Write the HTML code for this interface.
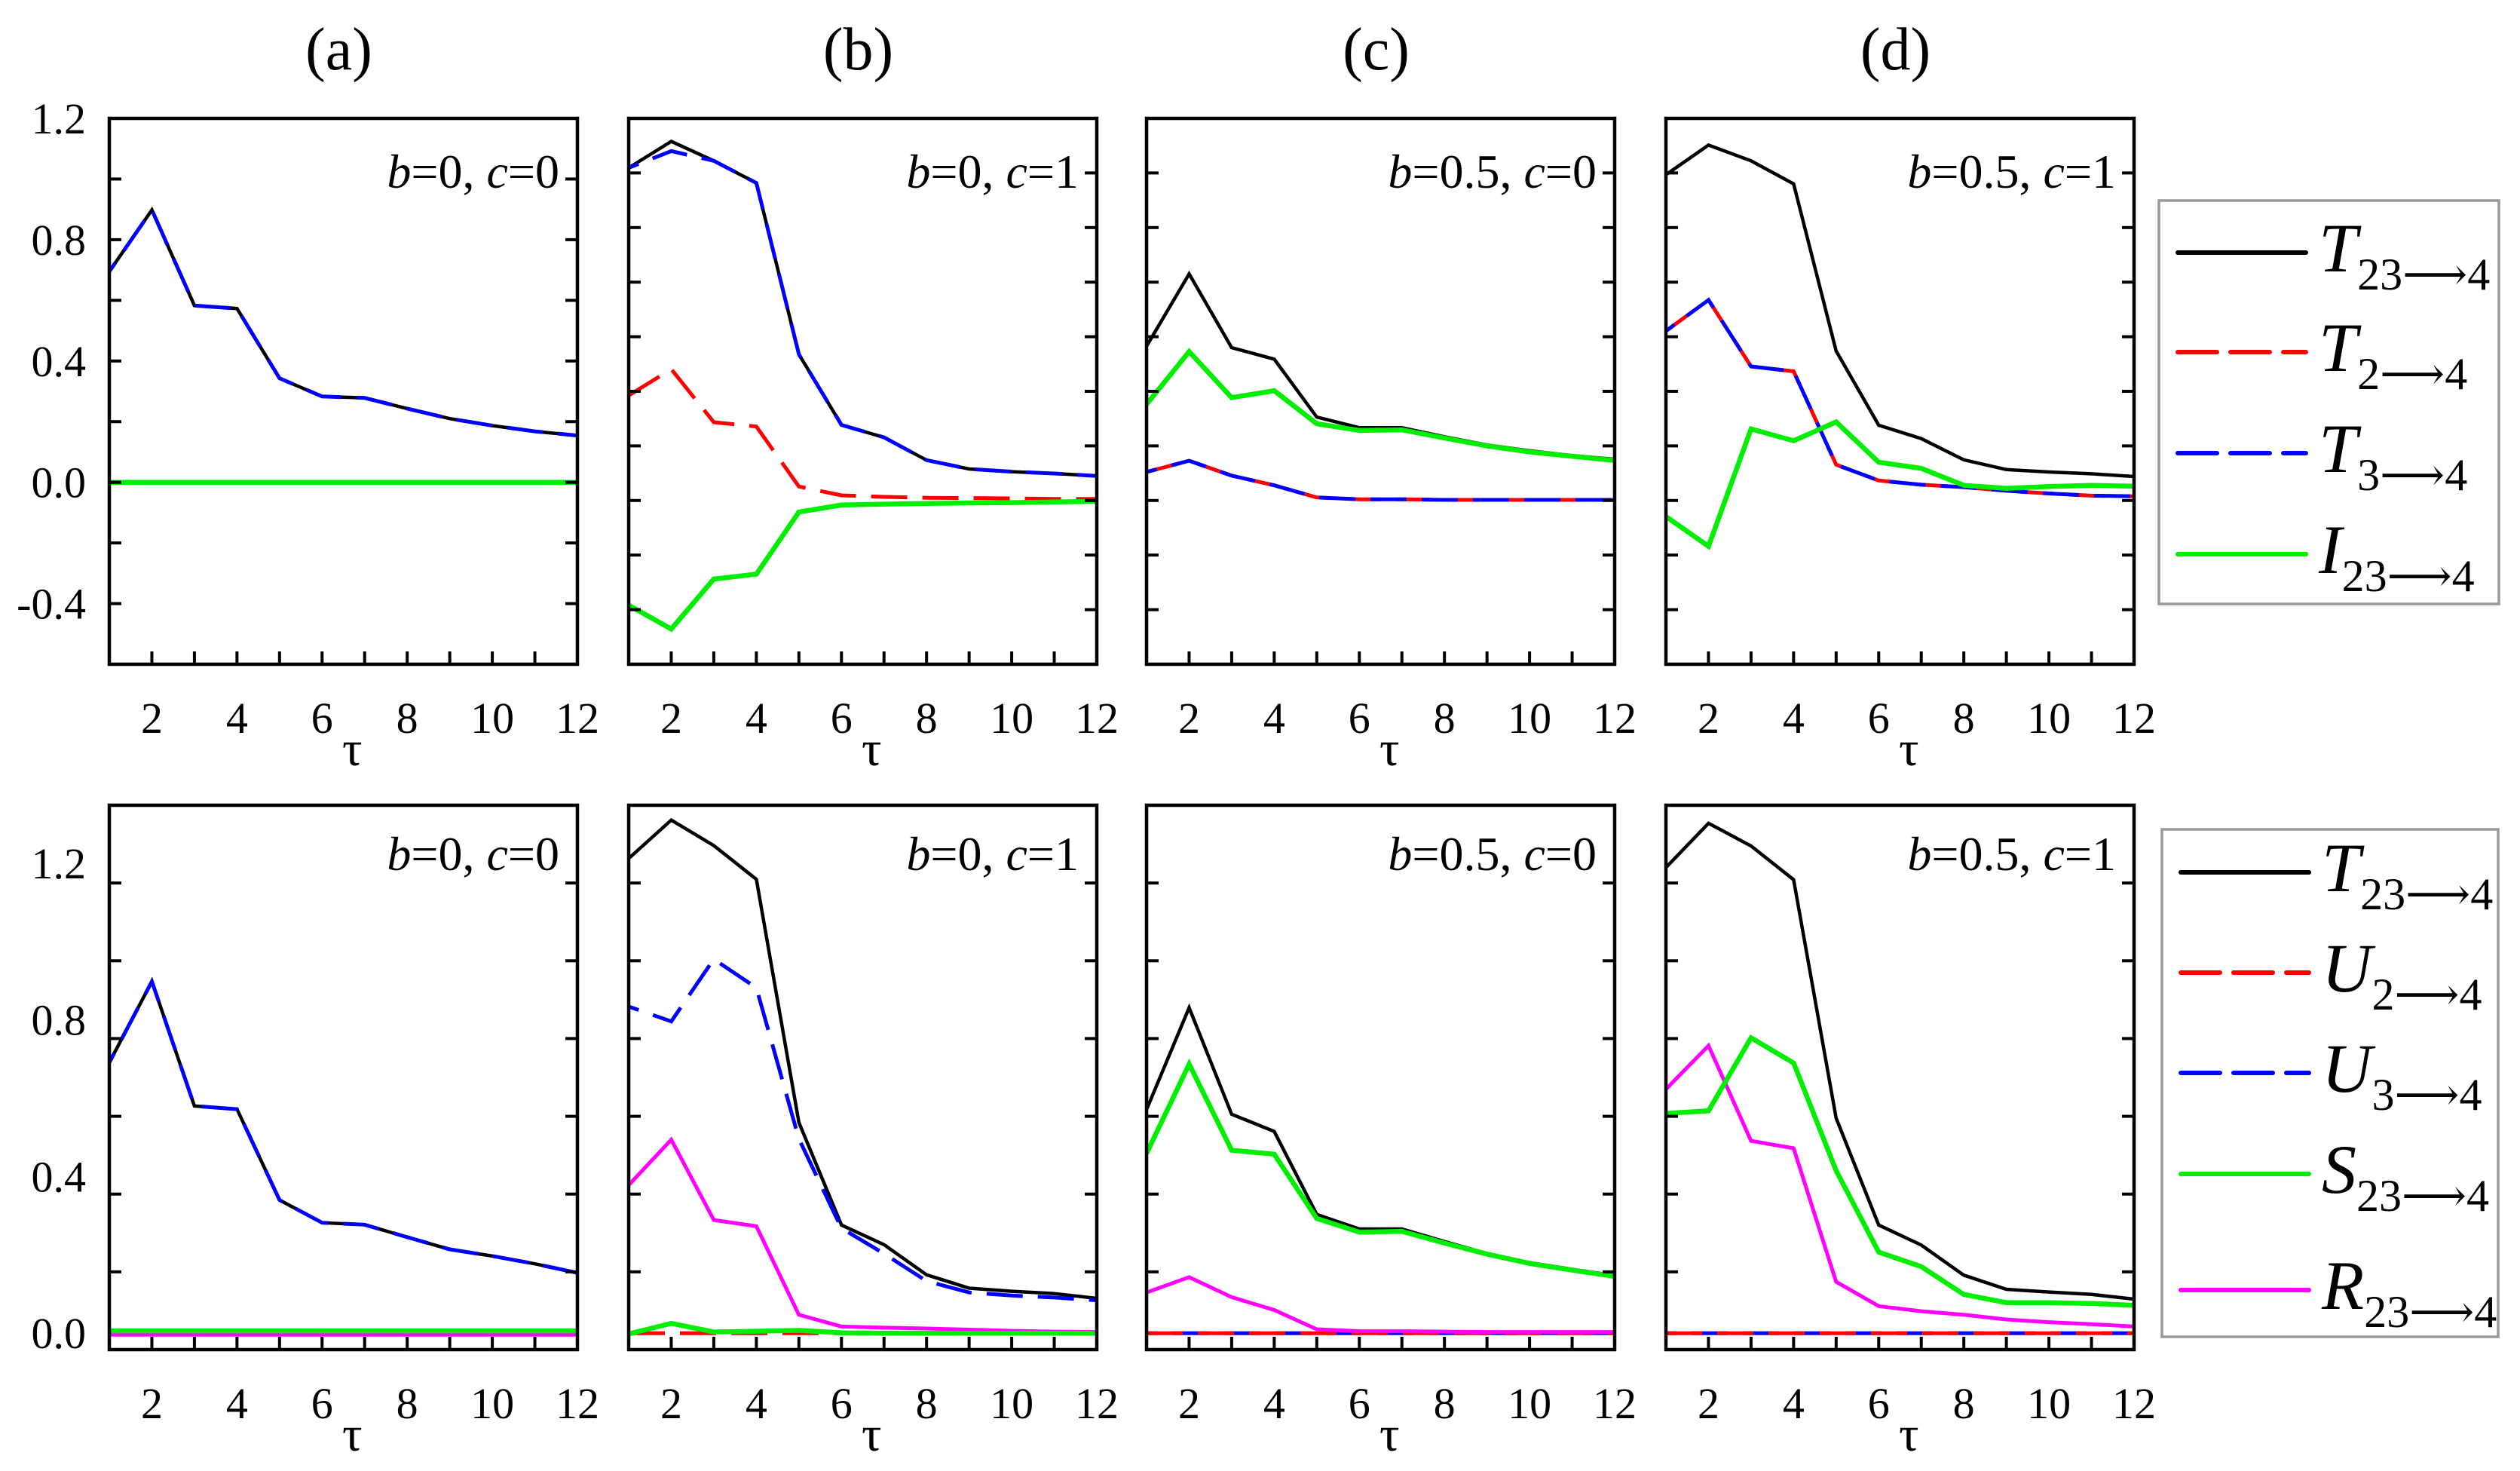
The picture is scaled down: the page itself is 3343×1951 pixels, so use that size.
<!DOCTYPE html>
<html><head><meta charset="utf-8"><style>
html,body{margin:0;padding:0;background:#fff;}
svg{display:block;font-family:"Liberation Serif",serif;}
</style></head><body>
<svg id="fig" width="3343" height="1951" viewBox="0 0 3343 1951" xmlns="http://www.w3.org/2000/svg"></svg>
<script>
// x categories (tau)
const tau = [1,2,3,4,5,6,7,8,9,10,11,12];
// ---- top row (a)-(d): T23->4, T2->4, T3->4, I23->4
const topA_T  = [0.695,0.898,0.583,0.573,0.343,0.283,0.278,0.243,0.210,0.187,0.168,0.154];
const topA_T2 = [0,0,0,0,0,0,0,0,0,0,0,0];
const topA_T3 = [0.695,0.898,0.583,0.573,0.343,0.283,0.278,0.243,0.210,0.187,0.168,0.154];
const topA_I  = [0,0,0,0,0,0,0,0,0,0,0,0];
const topB_T  = [1.037,1.124,1.060,0.987,0.422,0.189,0.148,0.073,0.044,0.035,0.029,0.021];
const topB_T2 = [0.286,0.373,0.198,0.184,-0.014,-0.043,-0.048,-0.051,-0.052,-0.053,-0.055,-0.055];
const topB_T3 = [1.037,1.092,1.060,0.987,0.422,0.189,0.148,0.073,0.044,0.035,0.029,0.021];
const topB_I  = [-0.405,-0.484,-0.319,-0.303,-0.098,-0.075,-0.072,-0.070,-0.068,-0.067,-0.065,-0.063];
const topC_T  = [0.449,0.687,0.444,0.406,0.215,0.180,0.180,0.150,0.123,0.104,0.088,0.076];
const topC_T2 = [0.034,0.071,0.022,-0.010,-0.050,-0.056,-0.056,-0.058,-0.058,-0.058,-0.058,-0.058];
const topC_T3 = [0.034,0.071,0.022,-0.010,-0.050,-0.056,-0.056,-0.058,-0.058,-0.058,-0.058,-0.058];
const topC_I  = [0.257,0.431,0.279,0.302,0.193,0.171,0.173,0.146,0.120,0.100,0.086,0.072];
const topD_T  = [1.014,1.112,1.060,0.984,0.433,0.188,0.144,0.074,0.042,0.034,0.028,0.019];
const topD_T2 = [0.499,0.601,0.382,0.366,0.058,0.006,-0.008,-0.016,-0.028,-0.037,-0.044,-0.046];
const topD_T3 = [0.499,0.601,0.382,0.366,0.058,0.006,-0.008,-0.016,-0.028,-0.037,-0.044,-0.046];
const topD_I  = [-0.113,-0.211,0.176,0.137,0.199,0.066,0.046,-0.010,-0.020,-0.014,-0.010,-0.013];
// ---- bottom row: T23->4, U2->4, U3->4, S23->4, R23->4
const botA_T  = [0.691,0.898,0.580,0.572,0.340,0.282,0.277,0.245,0.214,0.197,0.177,0.154];
const botA_U2 = [0,0,0,0,0,0,0,0,0,0,0,0];
const botA_U3 = [0.691,0.898,0.580,0.572,0.340,0.282,0.277,0.245,0.214,0.197,0.177,0.154];
const botA_S  = [0.006,0.006,0.006,0.006,0.006,0.006,0.006,0.006,0.006,0.006,0.006,0.006];
const botA_R  = [-0.004,-0.004,-0.004,-0.004,-0.004,-0.004,-0.004,-0.004,-0.004,-0.004,-0.004,-0.004];
const botB_T  = [1.212,1.310,1.245,1.159,0.538,0.276,0.226,0.149,0.115,0.107,0.101,0.089];
const botB_U2 = [0,0,0,0,0,0,0,0,0,0,0,0];
const botB_U3 = [0.834,0.796,0.955,0.882,0.496,0.268,0.203,0.133,0.104,0.096,0.091,0.084];
const botB_S  = [-0.002,0.025,0.003,0.005,0.007,0.001,0,0,0,0,0,0];
const botB_R  = [0.378,0.494,0.289,0.273,0.047,0.017,0.014,0.012,0.009,0.006,0.004,0.003];
const botC_T  = [0.571,0.831,0.559,0.515,0.303,0.266,0.266,0.234,0.203,0.180,0.163,0.147];
const botC_U2 = [0,0,0,0,0,0,0,0,0,0,0,0];
const botC_U3 = [0,0,0,0,0,0,0,0,0,0,0,0];
const botC_S  = [0.459,0.687,0.467,0.457,0.293,0.258,0.260,0.230,0.202,0.178,0.161,0.145];
const botC_R  = [0.104,0.143,0.092,0.059,0.010,0.005,0.005,0.004,0.003,0.003,0.003,0.003];
const botD_T  = [1.189,1.302,1.244,1.158,0.549,0.276,0.225,0.148,0.112,0.105,0.099,0.087];
const botD_U2 = [0,0,0,0,0,0,0,0,0,0,0,0];
const botD_U3 = [0,0,0,0,0,0,0,0,0,0,0,0];
const botD_S  = [0.561,0.568,0.754,0.690,0.415,0.207,0.170,0.099,0.078,0.078,0.076,0.071];
const botD_R  = [0.623,0.734,0.491,0.472,0.131,0.069,0.056,0.047,0.035,0.028,0.023,0.017];
// tick labels
const xTickLabels = [2,4,6,8,10,12];
const topYLabels = [1.2,0.8,0.4,0.0,-0.4];
const botYLabels = [1.2,0.8,0.4,0.0];
const panelTitles = ["(a)","(b)","(c)","(d)"];
const annB = ["0","0","0.5","0.5"];
const annC = ["0","1","0","1"];

const NS="http://www.w3.org/2000/svg";
const svg=document.getElementById('fig');
function mk(tag,attrs,parent){const e=document.createElementNS(NS,tag);for(const k in attrs)e.setAttribute(k,attrs[k]);(parent||svg).appendChild(e);return e;}

const cols=[[145,766],[834,1455],[1521,2142],[2210,2831]];
const rows=[{y0:157,y1:881,min:-0.6,max:1.2,nt:[9,10,10,10]},{y0:1068,y1:1790,min:-0.042,max:1.348,nt:[7,7,7,7]}];
const colNames=['a','b','c','d'];

const styles={
 T:{stroke:'#000',w:4.5,dash:null},
 T2:{stroke:'#ff0000',w:5,dash:'48 20'},
 T3:{stroke:'#0000ff',w:5,dash:'48 20',off:34},
 U2:{stroke:'#ff0000',w:5,dash:'48 20'},
 U3:{stroke:'#0000ff',w:5,dash:'48 20',off:34},
 I:{stroke:'#00ee00',w:6.5,dash:null},
 S:{stroke:'#00ee00',w:6.5,dash:null},
 R:{stroke:'#ff00ff',w:5,dash:null}
};
const topSeries=[
 {T:topA_T,T2:topA_T2,T3:topA_T3,I:topA_I},
 {T:topB_T,T2:topB_T2,T3:topB_T3,I:topB_I},
 {T:topC_T,T2:topC_T2,T3:topC_T3,I:topC_I},
 {T:topD_T,T2:topD_T2,T3:topD_T3,I:topD_I}];
const botSeries=[
 {T:botA_T,U2:botA_U2,U3:botA_U3,S:botA_S,R:botA_R},
 {T:botB_T,U2:botB_U2,U3:botB_U3,S:botB_S,R:botB_R},
 {T:botC_T,U2:botC_U2,U3:botC_U3,S:botC_S,R:botC_R},
 {T:botD_T,U2:botD_U2,U3:botD_U3,S:botD_S,R:botD_R}];
const topOrder=['T','T2','T3','I'];
const botOrder=['T','U3','U2','R','S'];

panelTitles.forEach((t,i)=>{
 const e=mk('text',{x:(cols[i][0]+cols[i][1])/2-6,y:92,'font-size':80,'text-anchor':'middle'});
 
 
 e.textContent=t;
});

rows.forEach((r,ri)=>{
 const sx=(ci,v)=>cols[ci][0]+(v-1)/11*(cols[ci][1]-cols[ci][0]);
 const sy=v=>r.y1-(v-r.min)/(r.max-r.min)*(r.y1-r.y0);
 cols.forEach((c,ci)=>{
  const g=mk('g',{});
  
  
  const clipId='clip'+ri+ci;
  const cp=mk('clipPath',{id:clipId},g);
  mk('rect',{x:c[0],y:r.y0,width:c[1]-c[0],height:r.y1-r.y0},cp);
  const ser=ri?botSeries[ci]:topSeries[ci];
  const order=ri?botOrder:topOrder;
  const sg=mk('g',{'clip-path':'url(#'+clipId+')'},g);
  order.forEach(k=>{
   const st=styles[k];
   const pts=tau.map((t,j)=>sx(ci,t).toFixed(1)+','+sy(ser[k][j]).toFixed(1)).join(' ');
   const pl=mk('polyline',{points:pts,fill:'none',stroke:st.stroke,'stroke-width':st.w,'stroke-linejoin':'miter'},sg);
   if(st.dash){pl.setAttribute('stroke-dasharray',st.dash);if(st.off)pl.setAttribute('stroke-dashoffset',st.off);}
   
   
  });
  const fr=mk('rect',{x:c[0],y:r.y0,width:c[1]-c[0],height:r.y1-r.y0,fill:'none',stroke:'#000','stroke-width':4.5},g);
  
  
  for(let t=2;t<=11;t++){
   const x=sx(ci,t);
   mk('line',{x1:x,x2:x,y1:r.y1,y2:r.y1-17,stroke:'#000','stroke-width':4},g);
  }
  const n=r.nt[ci];
  for(let k=1;k<n;k++){
   const y=r.y0+k*(r.y1-r.y0)/n;
   mk('line',{x1:c[0],x2:c[0]+16,y1:y,y2:y,stroke:'#000','stroke-width':4},g);
   mk('line',{x1:c[1],x2:c[1]-16,y1:y,y2:y,stroke:'#000','stroke-width':4},g);
  }
  xTickLabels.forEach(v=>{
   const e=mk('text',{x:sx(ci,v),y:r.y1+91,'font-size':58,'text-anchor':'middle'},g);
   
   
   e.textContent=v;
  });
  const tl=mk('text',{x:sx(ci,6)+40,y:r.y1+134,'font-size':66,'text-anchor':'middle'},g);
  
  
  tl.textContent='τ';
  const an=mk('text',{x:c[1]-24,y:r.y0+(ri?86:92),'font-size':64,'text-anchor':'end'},g);
  
  
  an.innerHTML='<tspan font-style="italic">b</tspan>='+annB[ci]+', <tspan font-style="italic">c</tspan>='+annC[ci];
  if(ci===0){
   (ri?botYLabels:topYLabels).forEach(v=>{
    const e=mk('text',{x:114,y:sy(v)+20,'font-size':58,'text-anchor':'end'},g);
    
    
    e.textContent=v.toFixed(1);
   });
  }
 });
});

function legend(box,entries,name){
 const g=mk('g',{});
 
 
 mk('rect',{x:box[0],y:box[1],width:box[2]-box[0],height:box[3]-box[1],fill:'#fff',stroke:'#999','stroke-width':3.5},g);
 entries.forEach(en=>{
  const st=styles[en.k];
  const ln=mk('line',{x1:box[0]+25,x2:box[0]+195,y1:en.y,y2:en.y,stroke:st.stroke,'stroke-width':6,'stroke-linecap':'round'},g);
  if(st.dash){ln.setAttribute('stroke-dasharray','52 18');}
  
  
  const t=mk('text',{x:box[0]+212,y:en.y+25,'font-size':92},g);
  
  
  t.innerHTML='<tspan font-style="italic">'+en.L+'</tspan><tspan font-size="60" dy="24">'+en.sub+'</tspan><tspan font-size="60" font-family="DejaVu Serif, serif">⟶</tspan><tspan font-size="60">4</tspan>';
 });
}
legend([2864,266,3315,801],[
 {k:'T',y:335,L:'T',sub:'23'},{k:'T2',y:467,L:'T',sub:'2'},
 {k:'T3',y:601,L:'T',sub:'3'},{k:'I',y:735,L:'I',sub:'23'}],'legend-top');
legend([2868,1100,3314,1773],[
 {k:'T',y:1157,L:'T',sub:'23'},{k:'U2',y:1290,L:'U',sub:'2'},
 {k:'U3',y:1423,L:'U',sub:'3'},{k:'S',y:1557,L:'S',sub:'23'},{k:'R',y:1711,L:'R',sub:'23'}],'legend-bottom');
</script>
</body></html>
